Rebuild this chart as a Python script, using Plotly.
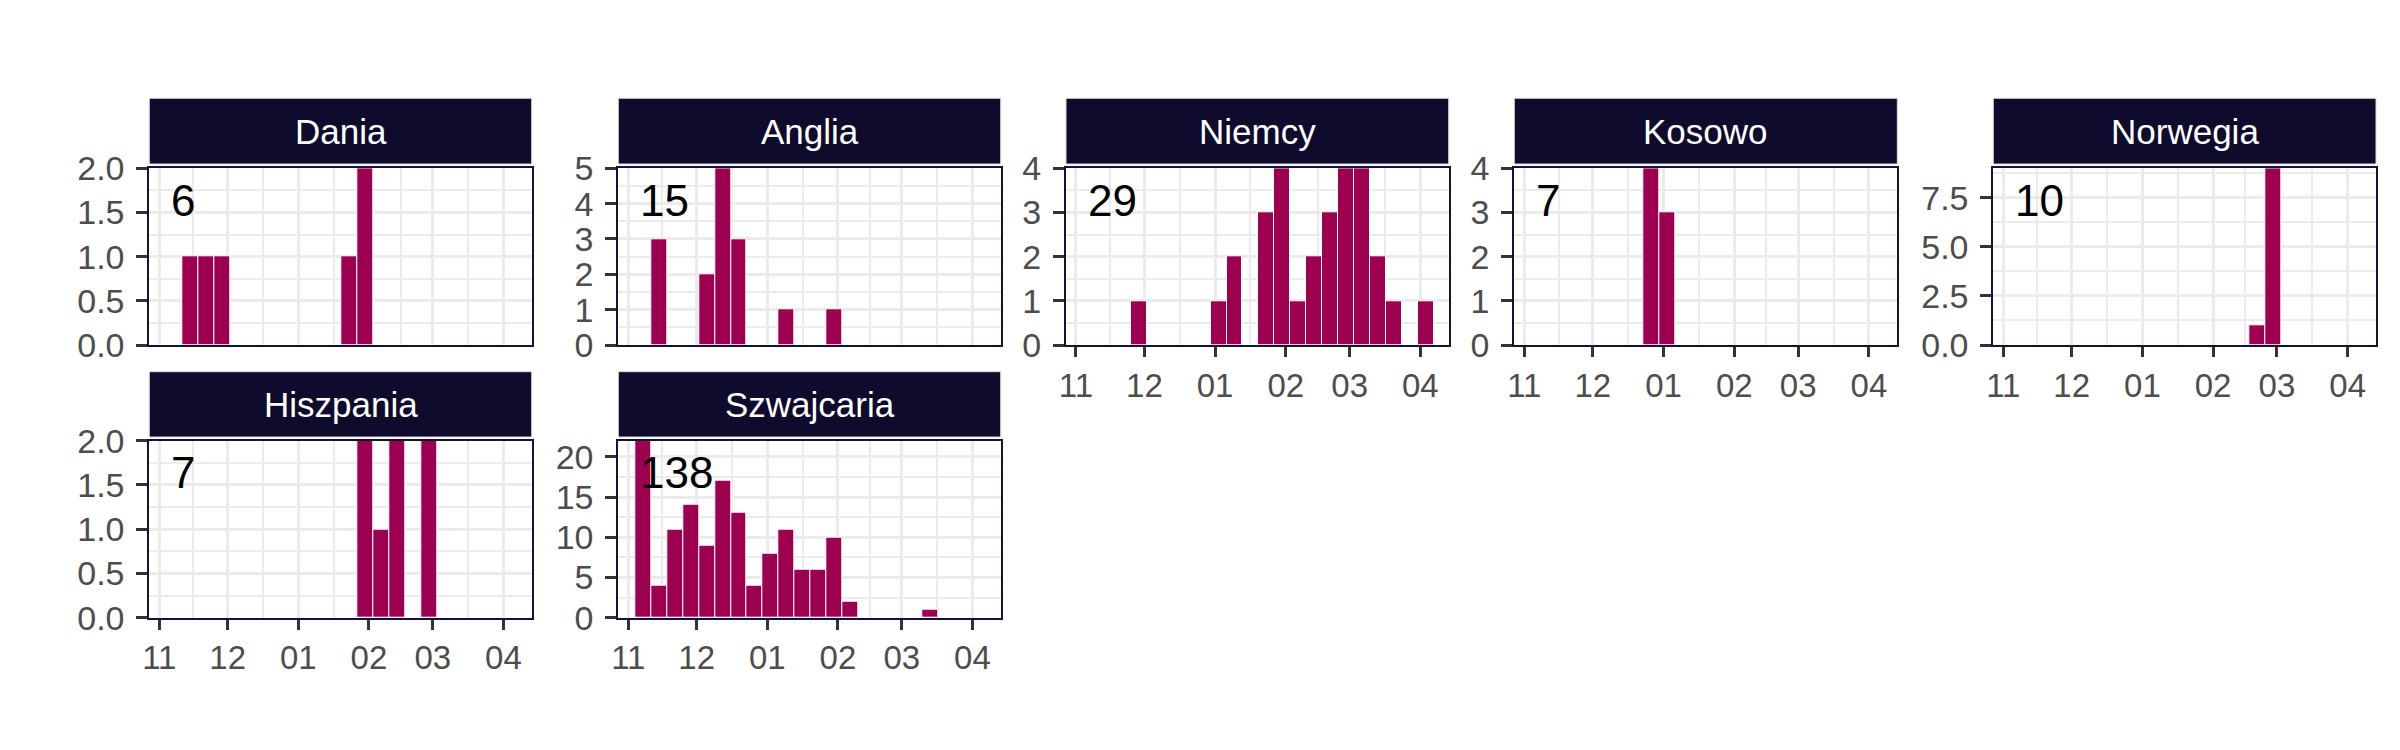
import pandas as pd
import plotly.graph_objects as go

# ---- data ----
week_starts = ["2021-11-04", "2021-11-11", "2021-11-18", "2021-11-25",
               "2021-12-02", "2021-12-09", "2021-12-16", "2021-12-23", "2021-12-30",
               "2022-01-06", "2022-01-13", "2022-01-20", "2022-01-27",
               "2022-02-03", "2022-02-10", "2022-02-17", "2022-02-24",
               "2022-03-03", "2022-03-10", "2022-03-17", "2022-03-24", "2022-03-31"]

countries = ["Dania", "Anglia", "Niemcy", "Kosowo", "Norwegia", "Hiszpania", "Szwajcaria"]

dania      = [0, 1, 1, 1, 0, 0, 0, 0, 0, 0, 0, 1, 2, 0, 0, 0, 0, 0, 0, 0, 0, 0]
anglia     = [0, 3, 0, 0, 2, 5, 3, 0, 0, 1, 0, 0, 1, 0, 0, 0, 0, 0, 0, 0, 0, 0]
niemcy     = [0, 0, 0, 1, 0, 0, 0, 0, 1, 2, 0, 3, 4, 1, 2, 3, 4, 4, 2, 1, 0, 1]
kosowo     = [0, 0, 0, 0, 0, 0, 0, 4, 3, 0, 0, 0, 0, 0, 0, 0, 0, 0, 0, 0, 0, 0]
norwegia   = [0, 0, 0, 0, 0, 0, 0, 0, 0, 0, 0, 0, 0, 0, 0, 1, 9, 0, 0, 0, 0, 0]
hiszpania  = [0, 0, 0, 0, 0, 0, 0, 0, 0, 0, 0, 0, 2, 1, 2, 0, 2, 0, 0, 0, 0, 0]
szwajcaria = [22, 4, 11, 14, 9, 17, 13, 4, 8, 11, 6, 6, 10, 2, 0, 0, 0, 0, 1, 0, 0, 0]

series = [dania, anglia, niemcy, kosowo, norwegia, hiszpania, szwajcaria]

tick_dates = ["2021-11-01", "2021-12-01", "2022-01-01", "2022-02-01", "2022-03-01", "2022-04-01"]
tick_labels = ["11", "12", "01", "02", "03", "04"]
minor_dates = ["2021-11-16", "2021-12-16 12:00", "2022-01-16 12:00", "2022-02-15", "2022-03-16 12:00"]

# ---- style / layout ----
W, H = 2400, 750
BAR = "#9E0050"
STRIP = "#0E0B2D"
BORDER = "#15123A"
GRID = "#EBEBEB"
TXT = "#4D4D4D"
FONT = "Liberation Sans, Arial, sans-serif"

cols = [(149.3, 531.7), (618.3, 1000.7), (1066.0, 1448.7), (1514.3, 1897.3), (1993.3, 2376.0)]
rows = [(168.3, 345.0), (440.7, 617.7)]
strips = [(98.3, 164.0), (371.7, 437.0)]
pos = [(0, 0), (0, 1), (0, 2), (0, 3), (0, 4), (1, 0), (1, 1)]
show_x = [False, False, True, True, True, True, True]
ydtick = [0.5, 1, 1, 1, 2.5, 0.5, 5]
yfmt = [".1f", "d", "d", "d", ".1f", ".1f", "d"]
xrange_ = ["2021-10-27 15:00", "2022-04-13 10:00"]

centers = pd.to_datetime(week_starts) + pd.Timedelta(days=3.5)
week_ms = 7 * 24 * 3600 * 1000

fig = go.Figure()
shapes = []
annotations = []

for i, (name, vals) in enumerate(zip(countries, series)):
    r, c = pos[i]
    x0, x1 = cols[c]
    py0, py1 = rows[r]
    s0, s1 = strips[r]
    xa = "x" if i == 0 else f"x{i+1}"
    ya = "y" if i == 0 else f"y{i+1}"
    yv = [v if v > 0 else None for v in vals]
    fig.add_trace(go.Bar(
        x=centers, y=yv, width=[week_ms] * len(centers),
        marker=dict(color=BAR, line=dict(color="white", width=1)),
        xaxis=xa, yaxis=ya, showlegend=False, hoverinfo="x+y"))
    ymax = max(vals)
    xkey = "xaxis" if i == 0 else f"xaxis{i+1}"
    ykey = "yaxis" if i == 0 else f"yaxis{i+1}"
    fig.layout[xkey] = dict(
        domain=[x0 / W, x1 / W], anchor=ya, type="date", range=xrange_,
        tickvals=tick_dates, ticktext=tick_labels, automargin=False,
        showticklabels=show_x[i], ticks="outside" if show_x[i] else "",
        ticklen=10, tickwidth=3, tickcolor="#333333",
        tickfont=dict(family=FONT, size=33, color=TXT),
        showgrid=True, gridcolor=GRID, gridwidth=3,
        minor=dict(tickvals=minor_dates, showgrid=True, gridcolor=GRID, gridwidth=1.5, ticks=""),
        showline=True, linecolor=BORDER, linewidth=2, mirror=True,
        zeroline=False, fixedrange=True)
    fig.layout[ykey] = dict(
        domain=[1 - py1 / H, 1 - py0 / H], anchor=xa, range=[0, ymax], automargin=False,
        dtick=ydtick[i], tick0=0, tickformat=yfmt[i],
        ticks="outside", ticklen=11, tickwidth=3, tickcolor="#333333",
        ticklabelstandoff=5,
        tickfont=dict(family=FONT, size=34, color=TXT),
        showgrid=True, gridcolor=GRID, gridwidth=3,
        minor=dict(dtick=ydtick[i] / 2, tick0=0, showgrid=True, gridcolor=GRID, gridwidth=1.5, ticks=""),
        showline=True, linecolor=BORDER, linewidth=2, mirror=True,
        zeroline=False, fixedrange=True)
    # strip
    shapes.append(dict(type="rect", xref="paper", yref="paper",
                       x0=x0 / W, x1=x1 / W, y0=1 - s1 / H, y1=1 - s0 / H,
                       fillcolor=STRIP, line=dict(color="#D9D9D9", width=1)))
    annotations.append(dict(xref="paper", yref="paper", x=(x0 + x1) / 2 / W, y=1 - (s0 + s1) / 2 / H,
                            text=name, showarrow=False, xanchor="center", yanchor="middle",
                            font=dict(family=FONT, size=35, color="white")))
    # total count
    annotations.append(dict(xref="paper", yref="paper", x=(x0 + 20) / W, y=1 - (py0 + 32) / H,
                            text=str(sum(vals)), showarrow=False, xanchor="left", yanchor="middle",
                            font=dict(family=FONT, size=44, color="black")))

fig.update_layout(template="none", width=W, height=H, margin=dict(l=0, r=0, t=0, b=0, autoexpand=False),
                  paper_bgcolor="white", plot_bgcolor="white",
                  shapes=shapes, annotations=annotations, bargap=0)

fig.write_html("out.html", config={"displayModeBar": False, "responsive": False},
               post_script="document.body.style.margin='0';document.body.style.overflow='hidden';")
